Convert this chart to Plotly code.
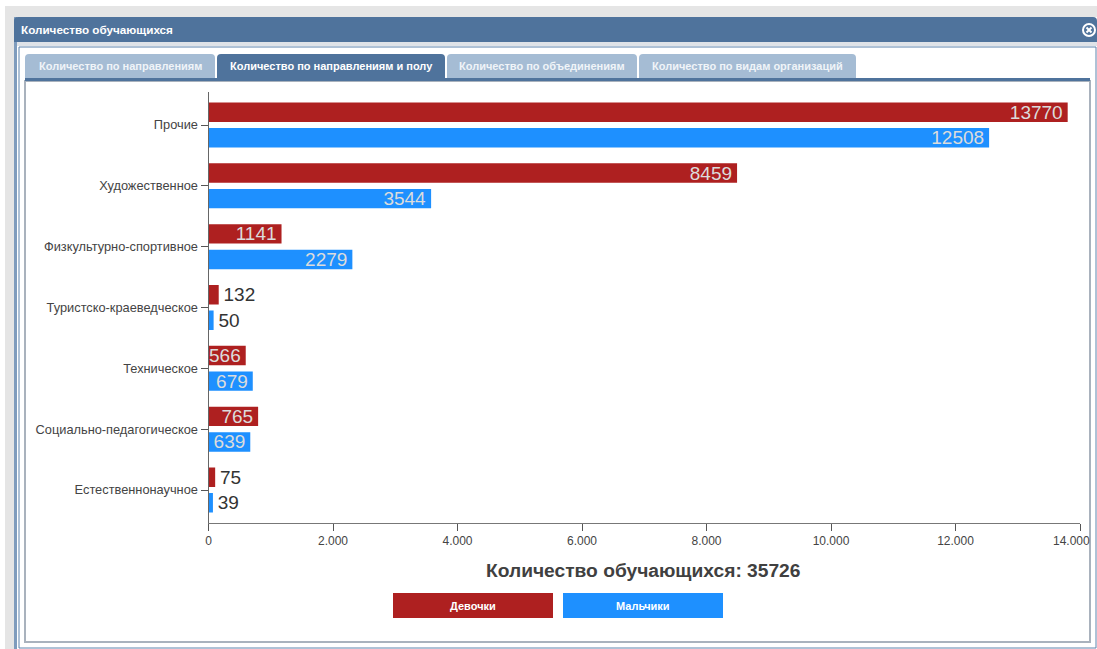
import plotly.graph_objects as go

categories = ["Прочие", "Художественное", "Физкультурно-спортивное", "Туристско-краеведческое",
              "Техническое", "Социально-педагогическое", "Естественнонаучное"]
girls = [13770, 8459, 1141, 132, 566, 765, 75]
boys = [12508, 3544, 2279, 50, 679, 639, 39]
series_names = ["Девочки", "Мальчики"]
x_ticks = [0, 2000, 4000, 6000, 8000, 10000, 12000, 14000]
x_tick_labels = ["0", "2.000", "4.000", "6.000", "8.000", "10.000", "12.000", "14.000"]
tabs = ["Количество по направлениям", "Количество по направлениям и полу",
        "Количество по объединениям", "Количество по видам организаций"]
window_title = "Количество обучающихся"
total_title = "Количество обучающихся: 35726"

W, H = 1097, 649
RED, BLUE = "#ae2020", "#1e90ff"
HEAD, TAB = "#4f739c", "#a5bcd4"
FONT = "Liberation Sans"
INSIDE_MIN = 500


def X(p):
    return p / W


def Y(p):
    return 1 - p / H


def rect(x0, y0, x1, y1, fill, line=None, lw=0):
    return dict(type="rect", xref="paper", yref="paper", x0=X(x0), x1=X(x1), y0=Y(y0), y1=Y(y1),
                fillcolor=fill, line=dict(color=line or fill, width=lw), layer="below")


def round_top(x0, y0, x1, y1, fill, r=4):
    path = (f"M{X(x0)},{Y(y1)} L{X(x0)},{Y(y0 + r)} Q{X(x0)},{Y(y0)} {X(x0 + r)},{Y(y0)} "
            f"L{X(x1 - r)},{Y(y0)} Q{X(x1)},{Y(y0)} {X(x1)},{Y(y0 + r)} L{X(x1)},{Y(y1)} Z")
    return dict(type="path", xref="paper", yref="paper", path=path, fillcolor=fill,
                line=dict(width=0), layer="below")


def label(x, y, text, size, color, bold=False, anchor="center"):
    return dict(xref="paper", yref="paper", x=X(x), y=Y(y), text=f"<b>{text}</b>" if bold else text,
                showarrow=False, xanchor=anchor, yanchor="middle",
                font=dict(family=FONT, size=size, color=color))


def series(name, vals, color):
    return go.Bar(
        name=name, y=categories, x=vals, orientation="h", cliponaxis=False,
        marker=dict(color=color, line=dict(color=color, width=4)),
        text=[str(v) if v >= INSIDE_MIN else "\u2009" + str(v) for v in vals],
        textposition=["inside" if v >= INSIDE_MIN else "outside" for v in vals],
        insidetextanchor="end", textangle=0, constraintext="none",
        textfont=dict(family=FONT, size=19,
                      color=["#dcdcdc" if v >= INSIDE_MIN else "#333333" for v in vals]),
        showlegend=False, hoverinfo="x+y",
    )


fig = go.Figure([series(series_names[0], girls, RED), series(series_names[1], boys, BLUE)])

shapes = [
    rect(5, 6, W, H, "#e5e5e5"),
    rect(14, 17, W, H, "#ffffff"),
    rect(14, 17, 17, H, "#7f9cbd"),
    round_top(14, 17, W, 42, HEAD, 4),
    rect(17, 42, W, 46, "#dfe3e8"),
    rect(19, 47, 1096, 648, "#ffffff", "#5f84ad", 1),
    rect(25, 81, 1090, 642, "#ffffff", "#a9b2bd", 2),
    rect(25, 78, 1090, 81, HEAD),
    rect(393, 593, 553, 618, RED),
    rect(563, 593, 723, 618, BLUE),
]
tab_spans = [(25, 215), (217, 445), (447, 637), (639, 856)]
for i, (a, b) in enumerate(tab_spans):
    shapes.append(round_top(a, 54, b, 78, HEAD if i == 1 else TAB, 4))

# Close icon
shapes.append(dict(type="circle", xref="paper", yref="paper", x0=X(1083), x1=X(1095), y0=Y(24), y1=Y(36),
                   fillcolor="rgba(0,0,0,0)", line=dict(color="#ffffff", width=2), layer="above"))
shapes.append(dict(type="line", xref="paper", yref="paper", x0=X(1086.5), x1=X(1091.5), y0=Y(27.5), y1=Y(32.5),
                   line=dict(color="#ffffff", width=2), layer="above"))
shapes.append(dict(type="line", xref="paper", yref="paper", x0=X(1086.5), x1=X(1091.5), y0=Y(32.5), y1=Y(27.5),
                   line=dict(color="#ffffff", width=2), layer="above"))

annotations = [label(19, 30, window_title, 11.7, "#ffffff", True, "left")]
tab_colors = ["#f0f4f8", "#ffffff", "#f0f4f8", "#f0f4f8"]
for (a, b), t, c in zip(tab_spans, tabs, tab_colors):
    annotations.append(label((a + b) / 2, 65.5, t, 11, c, True))
annotations += [
    label(643, 570, total_title, 19.2, "#404040", True),
    label(473, 606, series_names[0], 11, "#ffffff", True),
    label(643, 606, series_names[1], 11, "#ffffff", True),
    label(1071, 541, x_tick_labels[-1], 12, "#444444"),
]

fig.update_layout(
    width=W, height=H, autosize=False, margin=dict(l=0, r=0, t=0, b=0, autoexpand=False),
    paper_bgcolor="#ffffff", plot_bgcolor="rgba(0,0,0,0)",
    barmode="group", bargap=0.158, bargroupgap=0.40,
    font=dict(family=FONT, size=12, color="#444444"),
    shapes=shapes, annotations=annotations,
    xaxis=dict(domain=[X(208.5), X(1080)], range=[0, 14000], tickmode="array", tickvals=x_ticks,
               ticktext=x_tick_labels[:-1] + [""],
               ticks="outside", ticklen=7, tickcolor="#555555", tickwidth=1,
               showline=True, linecolor="#777777", linewidth=1, showgrid=False, zeroline=False,
               tickfont=dict(family=FONT, size=12, color="#444444"), anchor="y"),
    yaxis=dict(domain=[Y(523), Y(92)], type="category", categoryorder="array", categoryarray=categories,
               range=[6.5425, -0.5425], ticks="outside", ticklen=7, tickcolor="#555555", tickwidth=1,
               showline=True, linecolor="#666666", linewidth=1, showgrid=False, zeroline=False,
               tickfont=dict(family=FONT, size=12.8, color="#444444"), anchor="x", automargin=False),
)

fig.write_html("out.html", config=dict(displayModeBar=False),
               post_script="document.body.style.margin='0';document.body.style.overflow='hidden';")
